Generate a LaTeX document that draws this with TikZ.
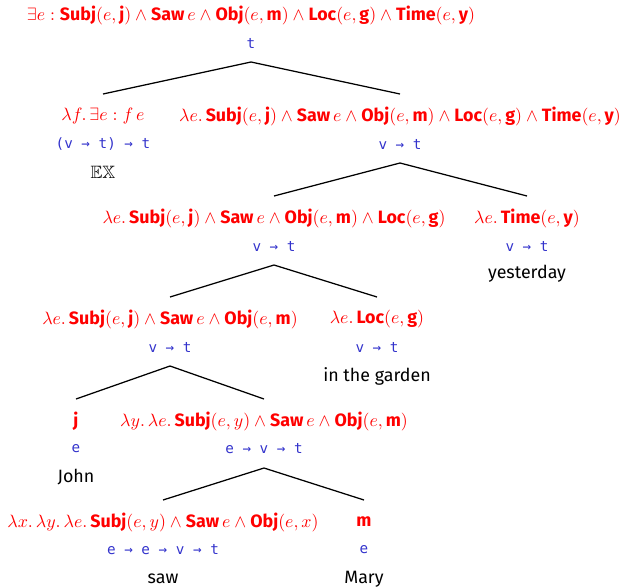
\documentclass[tikz,border=0pt]{standalone}
\usepackage{amssymb}
\usepackage{fontspec}
\setmainfont{Fira Sans}
\newfontfamily\tyf[Scale=0.8]{DejaVu Sans Mono}
\usetikzlibrary{calc}
\definecolor{fred}{RGB}{255,0,0}
\definecolor{tblue}{RGB}{51,51,204}
\newcommand{\bw}[1]{\mbox{\bfseries #1}}
\begin{document}
\begin{tikzpicture}[x=0.56pt,y=-0.56pt,
  fm/.style={text=fred, inner sep=0pt},
  ty/.style={text=tblue, font=\tyf, inner sep=0pt},
  wd/.style={text=black, inner sep=0pt},
  br/.style={draw=black, line width=0.7pt}]
\useasboundingbox (0,0) rectangle (628,587);
% level 0
\node[fm] (f0) at (251,15) {$\exists e : \bw{Subj}(e,\bw{j}) \wedge \bw{Saw}\,e \wedge \bw{Obj}(e,\bw{m}) \wedge \bw{Loc}(e,\bw{g}) \wedge \bw{Time}(e,\bw{y})$};
\node[ty] (t0) at (251,43) {t};
% level 1
\node[fm] (f1a) at (103,116) {$\lambda f.\,\exists e : f\,e$};
\node[ty] (t1a) at (103,144) {(v → t) → t};
\node[wd] (w1a) at (103,172) {$\mathbb{EX}$};
\node[fm] (f1b) at (400,116) {$\lambda e.\,\bw{Subj}(e,\bw{j}) \wedge \bw{Saw}\,e \wedge \bw{Obj}(e,\bw{m}) \wedge \bw{Loc}(e,\bw{g}) \wedge \bw{Time}(e,\bw{y})$};
\node[ty] (t1b) at (400,144) {v → t};
% level 2
\node[fm] (f2a) at (274,218) {$\lambda e.\,\bw{Subj}(e,\bw{j}) \wedge \bw{Saw}\,e \wedge \bw{Obj}(e,\bw{m}) \wedge \bw{Loc}(e,\bw{g})$};
\node[ty] (t2a) at (274,246) {v → t};
\node[fm] (f2b) at (527,218) {$\lambda e.\,\bw{Time}(e,\bw{y})$};
\node[ty] (t2b) at (527,246) {v → t};
\node[wd] (w2b) at (527,274) {yesterday};
% level 3
\node[fm] (f3a) at (170,319) {$\lambda e.\,\bw{Subj}(e,\bw{j}) \wedge \bw{Saw}\,e \wedge \bw{Obj}(e,\bw{m})$};
\node[ty] (t3a) at (170,347) {v → t};
\node[fm] (f3b) at (377,319) {$\lambda e.\,\bw{Loc}(e,\bw{g})$};
\node[ty] (t3b) at (377,347) {v → t};
\node[wd] (w3b) at (377,376) {in the garden};
% level 4
\node[fm] (f4a) at (76,421) {\bfseries j};
\node[ty] (t4a) at (76,449) {e};
\node[wd] (w4a) at (76,477) {John};
\node[fm] (f4b) at (264,421) {$\lambda y.\,\lambda e.\,\bw{Subj}(e,y) \wedge \bw{Saw}\,e \wedge \bw{Obj}(e,\bw{m})$};
\node[ty] (t4b) at (264,449) {e → v → t};
% level 5
\node[fm] (f5a) at (163,522) {$\lambda x.\,\lambda y.\,\lambda e.\,\bw{Subj}(e,y) \wedge \bw{Saw}\,e \wedge \bw{Obj}(e,x)$};
\node[ty] (t5a) at (163,550) {e → e → v → t};
\node[wd] (w5a) at (163,579) {saw};
\node[fm] (f5b) at (364,522) {\bfseries m};
\node[ty] (t5b) at (364,550) {e};
\node[wd] (w5b) at (364,579) {Mary};
% branches
\draw[br] ($(f1a)+(0,-22)$) -- ($(t0)+(0,19)$) -- ($(f1b)+(0,-22)$);
\draw[br] ($(f2a)+(0,-22)$) -- ($(t1b)+(0,19)$) -- ($(f2b)+(0,-22)$);
\draw[br] ($(f3a)+(0,-22)$) -- ($(t2a)+(0,19)$) -- ($(f3b)+(0,-22)$);
\draw[br] ($(f4a)+(0,-22)$) -- ($(t3a)+(0,19)$) -- ($(f4b)+(0,-22)$);
\draw[br] ($(f5a)+(0,-22)$) -- ($(t4b)+(0,19)$) -- ($(f5b)+(0,-22)$);
\end{tikzpicture}
\end{document}
